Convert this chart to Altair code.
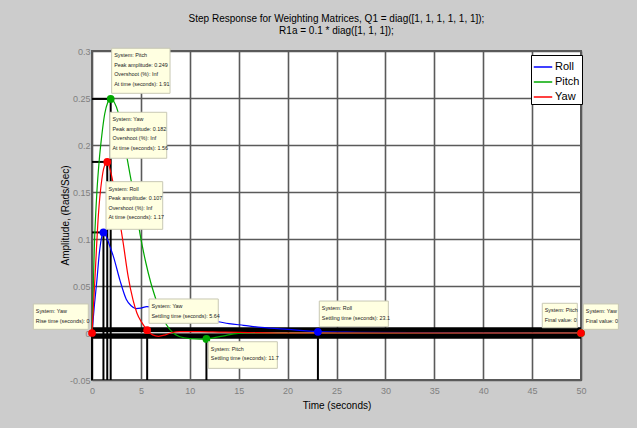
import altair as alt
import pandas as pd

FONT = "Liberation Sans, Arial, sans-serif"

# ---------------- data ----------------
series_names = ["Roll", "Pitch", "Yaw"]
series_colors = ["#0000FF", "#00A800", "#FF0000"]

t_roll = [0, 0.25, 0.5, 0.75, 0.95, 1.17, 1.45, 1.8, 2.2, 2.86, 3.5, 4.0, 4.5, 5.0, 5.6, 6.2,
          7, 8, 9, 10, 11, 12, 12.9, 14, 15.5, 17.3, 20, 23.1, 27, 34, 40, 50]
v_roll = [0, 0.03, 0.056, 0.085, 0.1, 0.107, 0.103, 0.093, 0.081, 0.056, 0.036, 0.029, 0.026,
          0.0265, 0.028, 0.0275, 0.025, 0.022, 0.02, 0.018, 0.016, 0.0135, 0.012, 0.01, 0.0082,
          0.006, 0.0038, 0.0015, 0.0008, 0.0003, 0.0001, 0]

t_pitch = [0, 0.25, 0.5, 0.75, 1.0, 1.3, 1.6, 1.91, 2.3, 2.7, 3.2, 3.9, 4.4, 4.9, 5.5, 6.0, 6.5,
           7.0, 7.6, 8.3, 9.0, 10.0, 11.0, 11.7, 12.5, 13.5, 14.5, 16, 20, 30, 50]
v_pitch = [0, 0.095, 0.15, 0.185, 0.21, 0.233, 0.245, 0.249, 0.245, 0.234, 0.208, 0.168, 0.14,
           0.106, 0.075, 0.054, 0.037, 0.022, 0.009, 0.0, -0.004, -0.006, -0.0065, -0.0063,
           -0.005, -0.003, -0.001, 0, 0, 0, 0]

t_yaw = [0, 0.3, 0.65, 1.0, 1.25, 1.56, 1.9, 2.3, 2.7, 3.2, 3.7, 4.2, 4.6, 5.1, 5.64, 6.2, 6.8,
         7.5, 8.2, 9.0, 11, 13, 15, 19, 30, 50]
v_yaw = [0, 0.058, 0.125, 0.163, 0.177, 0.182, 0.172, 0.152, 0.128, 0.095, 0.06, 0.035, 0.021,
         0.011, 0.003, -0.002, -0.0035, -0.002, 0.0005, 0.0014, 0.0014, 0.001, 0.0006, 0, 0, 0]

x_ticks = [0, 5, 10, 15, 20, 25, 30, 35, 40, 45, 50]
y_ticks = [-0.05, 0, 0.05, 0.1, 0.15, 0.2, 0.25, 0.3]

# characteristic points (peak, rise, settling, final value)
mk_series = ["Pitch", "Yaw", "Roll", "Yaw", "Yaw", "Pitch", "Roll", "Pitch", "Yaw"]
mk_t = [1.91, 1.56, 1.17, 0, 5.64, 11.7, 23.1, 50, 50]
mk_v = [0.249, 0.182, 0.107, 0, 0.003, -0.0063, 0.0012, 0, 0]
mk_kind = ["peak", "peak", "peak", "rise", "settle", "settle", "settle", "final", "final"]

# settling bands (+/- 2 % of peak) for each system
band_levels = [0.0021, -0.0021, 0.0036, -0.0036, 0.005, -0.005]

# data tips: box corners (time, amplitude) and text lines
tip_t0 = [2.01, 1.84, 1.43, -6.0, 5.83, 11.89, 23.24, 46.04, 50.24]
tip_t1 = [7.98, 7.64, 7.23, -0.38, 12.91, 18.95, 30.30, 49.62, 53.82]
tip_vtop = [0.3029, 0.2348, 0.1610, 0.0309, 0.0362, -0.0093, 0.0340, 0.0316, 0.0309]
tip_vbot = [0.2550, 0.1859, 0.1103, 0.0039, 0.0103, -0.0376, 0.0067, 0.0056, 0.0039]
tip_lines = [
    ["System: Pitch", "Peak amplitude: 0.249", "Overshoot (%): Inf", "At time (seconds): 1.91"],
    ["System: Yaw", "Peak amplitude: 0.182", "Overshoot (%): Inf", "At time (seconds): 1.56"],
    ["System: Roll", "Peak amplitude: 0.107", "Overshoot (%): Inf", "At time (seconds): 1.17"],
    ["System: Yaw", "Rise time (seconds): 0"],
    ["System: Yaw", "Settling time (seconds): 5.64"],
    ["System: Pitch", "Settling time (seconds): 11.7"],
    ["System: Roll", "Settling time (seconds): 23.1"],
    ["System: Pitch", "Final value: 0"],
    ["System: Yaw", "Final value: 0"],
]

title_lines = ["Step Response for Weighting Matrices, Q1 = diag([1, 1, 1, 1, 1, 1]);",
               "R1a = 0.1 * diag([1, 1, 1]);"]

# ---------------- tables ----------------
curves = pd.concat([
    pd.DataFrame({"t": t_roll, "v": v_roll, "series": "Roll", "o": range(len(t_roll))}),
    pd.DataFrame({"t": t_pitch, "v": v_pitch, "series": "Pitch", "o": range(len(t_pitch))}),
    pd.DataFrame({"t": t_yaw, "v": v_yaw, "series": "Yaw", "o": range(len(t_yaw))}),
], ignore_index=True)

markers = pd.DataFrame({"t": mk_t, "v": mk_v, "series": mk_series, "kind": mk_kind})

y_bottom = y_ticks[0]
segs = []
for lvl in band_levels:
    segs.append({"t": x_ticks[0], "t2": x_ticks[-1], "v": lvl, "v2": lvl})
for t, v, k in zip(mk_t, mk_v, mk_kind):
    if k == "peak":
        segs.append({"t": 0, "t2": t, "v": v, "v2": v})
    if k in ("peak", "rise", "settle"):
        segs.append({"t": t, "t2": t, "v": v, "v2": y_bottom})
segs = pd.DataFrame(segs)

tips = pd.DataFrame({"t0": tip_t0, "t1": tip_t1, "vtop": tip_vtop, "vbot": tip_vbot,
                     "lines": tip_lines})

# ---------------- encodings ----------------
xscale = alt.Scale(domain=[x_ticks[0], x_ticks[-1]], nice=False, zero=False)
yscale = alt.Scale(domain=[y_ticks[0], y_ticks[-1]], nice=False, zero=False)
cscale = alt.Scale(domain=series_names, range=series_colors)

xaxis = alt.Axis(values=x_ticks, title="Time (seconds)", grid=True, ticks=False, domain=False,
                 labelColor="#808080", labelFontSize=9, labelFont=FONT, labelPadding=6,
                 labelFlush=False, titleFont=FONT, titleFontSize=10, titleFontWeight="normal",
                 titleColor="black", titlePadding=5, gridColor="#5a5a5a", gridWidth=1.6)
yaxis = alt.Axis(values=y_ticks, title="Amplitude, (Rads/Sec)", grid=True, ticks=False,
                 domain=False, labelExpr="'' + round(datum.value * 100) / 100",
                 labelColor="#808080", labelFontSize=9, labelFont=FONT, labelPadding=2,
                 labelFlush=False, titleFont=FONT, titleFontSize=10, titleFontWeight="normal",
                 titleColor="black", titleX=-27, titleY=164, titleAngle=270,
                 titleAlign="center", titleBaseline="middle",
                 gridColor="#5a5a5a", gridWidth=1.6)

def X(f):
    return alt.X(f, type="quantitative", scale=xscale, axis=xaxis)

def Y(f):
    return alt.Y(f, type="quantitative", scale=yscale, axis=yaxis)

rules = alt.Chart(segs).mark_rule(color="black", strokeWidth=2).encode(
    x=X("t"), x2="t2", y=Y("v"), y2="v2")

legend = alt.Legend(title=None, orient="none", legendX=439, legendY=4, strokeColor="black",
                    fillColor="white", padding=2, symbolType="stroke", symbolSize=340,
                    symbolStrokeWidth=1.5, labelFontSize=11, labelFont=FONT, labelColor="black",
                    rowPadding=0, labelOffset=2, cornerRadius=0)

line_layers = []
for name in series_names:
    line_layers.append(
        alt.Chart(curves[curves.series == name]).mark_line(strokeWidth=1.2, interpolate="monotone")
        .encode(x=X("t"), y=Y("v"), order="o:Q",
                color=alt.Color("series:N", scale=cscale, legend=legend, sort=series_names))
    )

points = alt.Chart(markers).mark_point(filled=True, size=60, opacity=1, shape="circle").encode(
    x=X("t"), y=Y("v"), color=alt.Color("series:N", scale=cscale, legend=None))

boxes = alt.Chart(tips).mark_rect(fill="#FFFFE1", stroke="#C8C8B4", strokeWidth=1).encode(
    x=X("t0"), x2="t1", y=Y("vtop"), y2="vbot")

texts = alt.Chart(tips).mark_text(align="left", baseline="top", dx=2.5, dy=5, fontSize=5.4,
                                  font=FONT, color="#222222", lineHeight=9.6).encode(
    x=X("t0"), y=Y("vtop"), text="lines:N")

chart = alt.layer(rules, *line_layers, points, boxes, texts).properties(
    width=489, height=329,
    autosize=alt.AutoSizeParams(type="none"),
    padding={"left": 92, "top": 51, "right": 56, "bottom": 48},
    title=alt.TitleParams(text=title_lines, fontSize=10, fontWeight="normal", font=FONT,
                          color="black", anchor="middle", frame="group", offset=11,
                          lineHeight=12),
).configure(background="#CCCCCC").configure_view(stroke="#5a5a5a", strokeWidth=2, fill="white")

chart.save("out.html", embed_options={"renderer": "svg", "actions": False})
